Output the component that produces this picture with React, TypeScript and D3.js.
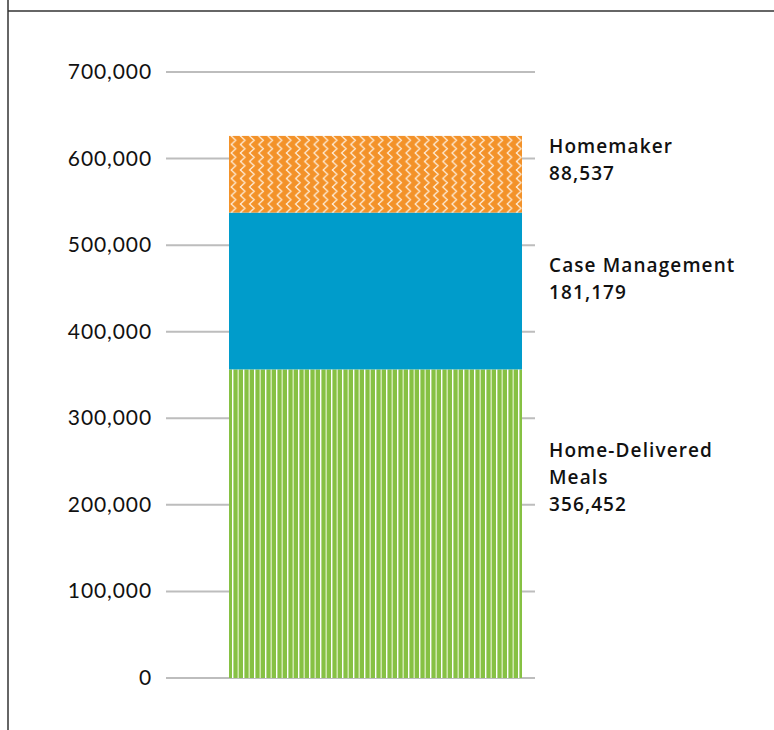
import React from "react";
import * as d3 from "d3";

const categories = ["Home-Delivered Meals", "Case Management", "Homemaker"];
const values = [356452, 181179, 88537];
const labelLines = [["Home-Delivered", "Meals"], ["Case Management"], ["Homemaker"]];
const yTicks = [0, 100000, 200000, 300000, 400000, 500000, 600000, 700000];
const colors = ["#86C143", "#009CCB", "#F39229"];
const patternIds = ["pGreen", "none", "pOrange"];

const W = 774;
const H = 730;

export default function App() {
  const y = d3.scaleLinear().domain([0, 700000]).range([678, 72]);
  const x = d3.scaleBand().domain(["total"]).range([166, 535])
    .paddingInner(0).paddingOuter(0.1297).align(0.829);
  const bx = x("total")!;
  const bw = x.bandwidth();
  const fmt = d3.format(",");

  const stack = d3.stack<number[]>().keys(categories.map((_, i) => String(i)))
    .value((d, k) => d[+k]);
  const series = stack([values]);

  const zig = d3.line().curve(d3.curveLinear);
  const zigPts: [number, number][] = [];
  for (let i = 0; i <= 2; i++) {
    zigPts.push([2.2, i * 8.5 - 8.5]);
    zigPts.push([6.8, i * 8.5 - 4.25]);
  }
  zigPts.push([2.2, 17]);

  const labelStart = [457, 272, 153];

  return (
    <svg width={W} height={H} style={{ position: "absolute", left: 0, top: 0, background: "#fff" }}>
      <defs>
        <pattern id="pOrange" patternUnits="userSpaceOnUse" width={9.2} height={8.5} x={bx} y={0}>
          <rect width={9.2} height={8.5} fill={colors[2]} />
          <path d={zig(zigPts) || ""} fill="none" stroke="#FFF4E6" strokeWidth={1.2} />
        </pattern>
        <pattern id="pGreen" patternUnits="userSpaceOnUse" width={11} height={20} x={bx} y={0}>
          <rect width={11} height={20} fill={colors[0]} />
          <rect x={3} width={1.4} height={20} fill="#ffffff" />
          <rect x={8.5} width={1.4} height={20} fill="#D6EBB8" />
        </pattern>
      </defs>
      {/* frame */}
      <line x1={8} y1={0} x2={8} y2={H} stroke="#333" strokeWidth={1.5} />
      <line x1={8} y1={11} x2={W} y2={11} stroke="#333" strokeWidth={1.5} />
      {/* gridlines */}
      {yTicks.map((t) => (
        <g key={t}>
          <line x1={166} x2={535} y1={y(t)} y2={y(t)} stroke="#BDBDBD" strokeWidth={2} />
          <text x={152} y={y(t) + 7} textAnchor="end" fontFamily="Lato, sans-serif" fontSize={21}
            letterSpacing={0.9} fill="#111">{fmt(t)}</text>
        </g>
      ))}
      {/* bars */}
      {series.map((s, i) => {
        const d = s[0];
        return (
          <rect key={i} x={bx} width={bw} y={y(d[1])} height={y(d[0]) - y(d[1])}
            fill={patternIds[i] === "none" ? colors[i] : `url(#${patternIds[i]})`} />
        );
      })}
      {/* labels */}
      {series.map((s, i) => {
        const lines = [...labelLines[i], fmt(values[i])];
        return (
          <g key={"l" + i}>
            {lines.map((ln, j) => (
              <text key={j} x={549} y={labelStart[i] + j * 27} fontFamily="'Open Sans', sans-serif" fontWeight={600}
                fontSize={19} letterSpacing={1.1} fill="#111">{ln}</text>
            ))}
          </g>
        );
      })}
    </svg>
  );
}
